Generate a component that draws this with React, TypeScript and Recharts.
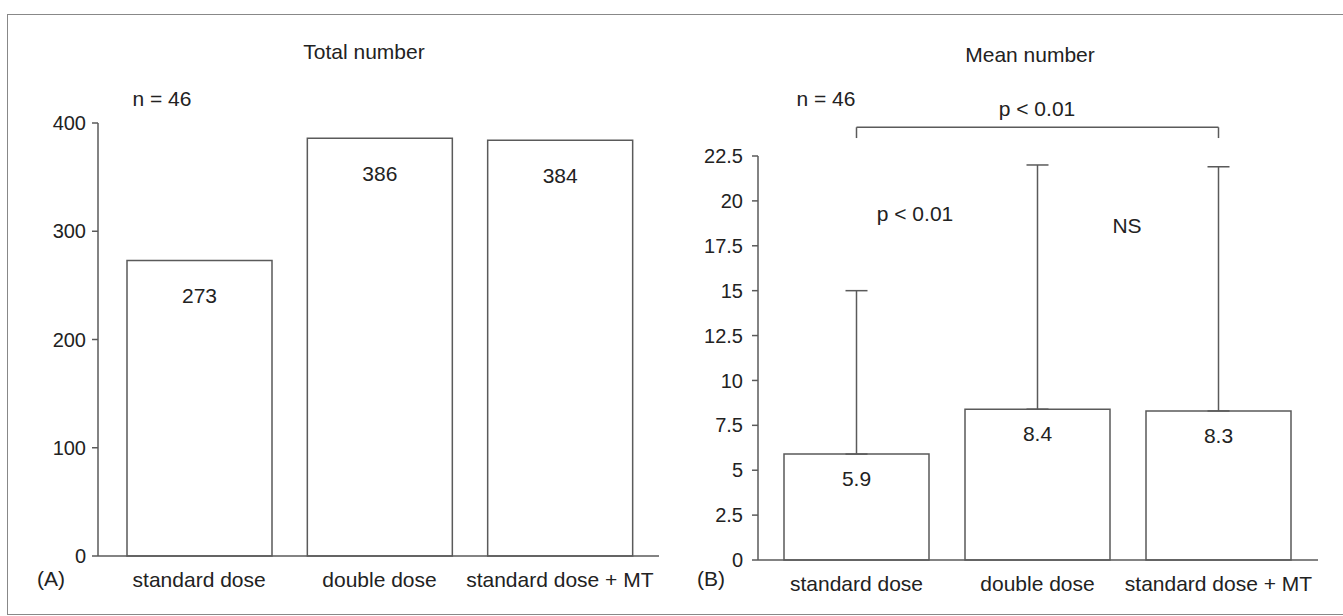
import { BarChart, Bar, XAxis, YAxis, ErrorBar, LabelList, ReferenceLine } from 'recharts';

const categories = ['standard dose', 'double dose', 'standard dose + MT'];
const totalCounts = [273, 386, 384];
const meanCounts = [5.9, 8.4, 8.3];
const meanUpper = [15, 22, 21.9];
const totalTicks = [0, 100, 200, 300, 400];
const meanTicks = [0, 2.5, 5, 7.5, 10, 12.5, 15, 17.5, 20, 22.5];

const FONT = '"Liberation Sans", Arial, Helvetica, sans-serif';
const TEXT = '#222';
const LINE = '#5a5a5a';

const totalData = categories.map((name, i) => ({ name, value: totalCounts[i] }));
const meanData = categories.map((name, i) => ({
  name,
  value: meanCounts[i],
  err: [0, +(meanUpper[i] - meanCounts[i]).toFixed(2)],
}));

const tickStyle = { fill: TEXT, fontSize: 20, fontFamily: FONT };
const labelStyle = { fill: TEXT, fontSize: 21, fontFamily: FONT };

// html text overlay, centred on (x, y)
function Note({ x, y, children }: { x: number; y: number; children: React.ReactNode }) {
  return (
    <div
      style={{
        position: 'absolute',
        left: x,
        top: y,
        transform: 'translate(-50%, -50%)',
        fontFamily: FONT,
        fontSize: 21,
        lineHeight: 1,
        color: TEXT,
        whiteSpace: 'nowrap',
      }}
    >
      {children}
    </div>
  );
}

export default function App() {
  return (
    <div style={{ position: 'absolute', left: 0, top: 0, width: 1343, height: 616, background: '#fff', overflow: 'hidden' }}>
      {/* scanned page frame */}
      <div
        style={{
          position: 'absolute',
          left: 7,
          top: 14,
          width: 1400,
          height: 599,
          borderLeft: '1.5px solid #888',
          borderTop: '1.5px solid #888',
          borderBottom: '1.5px solid #888',
        }}
      />

      <div style={{ position: 'absolute', left: 0, top: 0 }}>
        <BarChart width={680} height={616} data={totalData} margin={{ top: 123, right: 21, bottom: 20, left: 38 }}>
          <XAxis
            dataKey="name"
            tickLine={false}
            tickSize={0}
            tickMargin={16}
            height={40}
            padding={{ left: 11, right: 9 }}
            axisLine={{ stroke: LINE, strokeWidth: 1.5 }}
            tick={labelStyle}
            interval={0}
          />
          <YAxis
            domain={[0, 400]}
            ticks={totalTicks}
            width={60}
            tickSize={6}
            tickMargin={6}
            axisLine={{ stroke: LINE, strokeWidth: 1.5 }}
            tickLine={{ stroke: LINE, strokeWidth: 1.5 }}
            tick={tickStyle}
          />
          <Bar dataKey="value" barSize={145} fill="#fff" stroke={LINE} strokeWidth={1.5} isAnimationActive={false}>
            <LabelList dataKey="value" position="insideTop" offset={28} style={labelStyle} />
          </Bar>
        </BarChart>
      </div>

      <div style={{ position: 'absolute', left: 680, top: 0 }}>
        <BarChart width={663} height={616} data={meanData} margin={{ top: 156, right: 25, bottom: 16, left: 18 }}>
          <XAxis
            dataKey="name"
            tickLine={false}
            tickSize={0}
            tickMargin={16}
            height={40}
            padding={{ left: 8, right: 9 }}
            axisLine={{ stroke: LINE, strokeWidth: 1.5 }}
            tick={labelStyle}
            interval={0}
          />
          <YAxis
            domain={[0, 22.5]}
            ticks={meanTicks}
            width={60}
            tickSize={6}
            tickMargin={9}
            axisLine={{ stroke: LINE, strokeWidth: 1.5 }}
            tickLine={{ stroke: LINE, strokeWidth: 1.5 }}
            tick={tickStyle}
          />
          <Bar dataKey="value" barSize={145} fill="#fff" stroke={LINE} strokeWidth={1.5} isAnimationActive={false}>
            <ErrorBar dataKey="err" width={11} stroke={LINE} strokeWidth={1.5} isAnimationActive={false} />
            <LabelList dataKey="value" position="insideTop" offset={17} style={labelStyle} />
          </Bar>
          <ReferenceLine
            segment={[{ x: categories[0], y: 24.1 }, { x: categories[2], y: 24.1 }]}
            ifOverflow="visible"
            stroke={LINE}
            strokeWidth={1.5}
          />
          <ReferenceLine
            segment={[{ x: categories[0], y: 24.1 }, { x: categories[0], y: 23.5 }]}
            ifOverflow="visible"
            stroke={LINE}
            strokeWidth={1.5}
          />
          <ReferenceLine
            segment={[{ x: categories[2], y: 24.1 }, { x: categories[2], y: 23.5 }]}
            ifOverflow="visible"
            stroke={LINE}
            strokeWidth={1.5}
          />
        </BarChart>
      </div>

      <Note x={364} y={51}>Total number</Note>
      <Note x={162} y={98}>n = 46</Note>
      <Note x={51} y={578}>(A)</Note>

      <Note x={1030} y={54}>Mean number</Note>
      <Note x={826} y={98}>n = 46</Note>
      <Note x={1037} y={108}>p &lt; 0.01</Note>
      <Note x={915} y={213}>p &lt; 0.01</Note>
      <Note x={1127} y={225}>NS</Note>
      <Note x={711} y={578}>(B)</Note>
    </div>
  );
}
